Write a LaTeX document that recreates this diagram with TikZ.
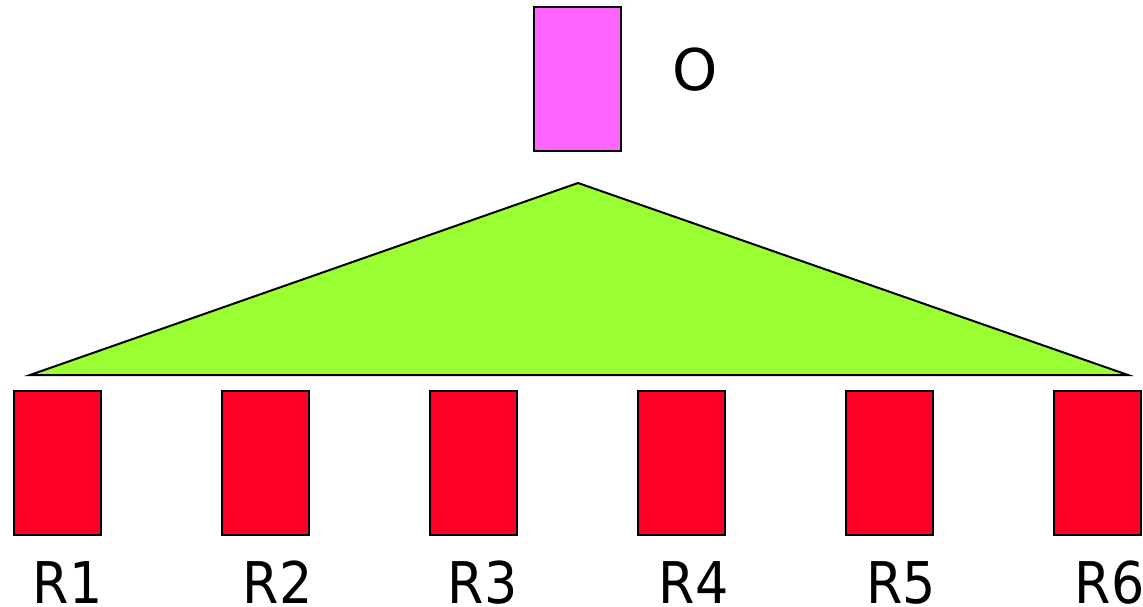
\documentclass[tikz,border=0pt]{standalone}
\usepackage{fontspec}
\usepackage{graphicx}
\setmainfont{DejaVu Sans}
\definecolor{pinkfill}{HTML}{FF66FF}
\definecolor{greenfill}{HTML}{99FF33}
\definecolor{redfill}{HTML}{FF0029}
\newcommand{\narrowtext}[1]{\scalebox{0.91}[1]{#1}}
\begin{document}
\begin{tikzpicture}[x=1pt,y=-1pt,
  box/.style={draw=black,line width=2pt,minimum width=87pt,minimum height=144pt,inner sep=0pt},
  rbox/.style={box,fill=redfill},
  lbl/.style={font=\fontsize{57.5}{60}\selectfont,inner sep=0pt,anchor=base}]
\useasboundingbox (0,0) rectangle (1143,607);
% top element
\node[box,fill=pinkfill] (O) at (577.5,79) {};
\node[lbl] (Olbl) at (695.5,91) {O};
% spanning triangle
\coordinate (apex) at (578,183);
\coordinate (bl) at (30,375);
\coordinate (br) at (1128,375);
\draw[fill=greenfill,line width=2pt,line join=miter] (apex) -- (br) -- (bl) -- cycle;
% row of elements
\foreach \i/\x/\lx in {1/57.5/67.5,2/265.5/277.5,3/473.5/482.5,4/681.5/693.5,5/889.5/901,6/1097.5/1109.5}{
  \node[rbox] (R\i) at (\x,463) {};
  \node[lbl] (L\i) at (\lx,603) {\narrowtext{R\i}};
}
\end{tikzpicture}
\end{document}
